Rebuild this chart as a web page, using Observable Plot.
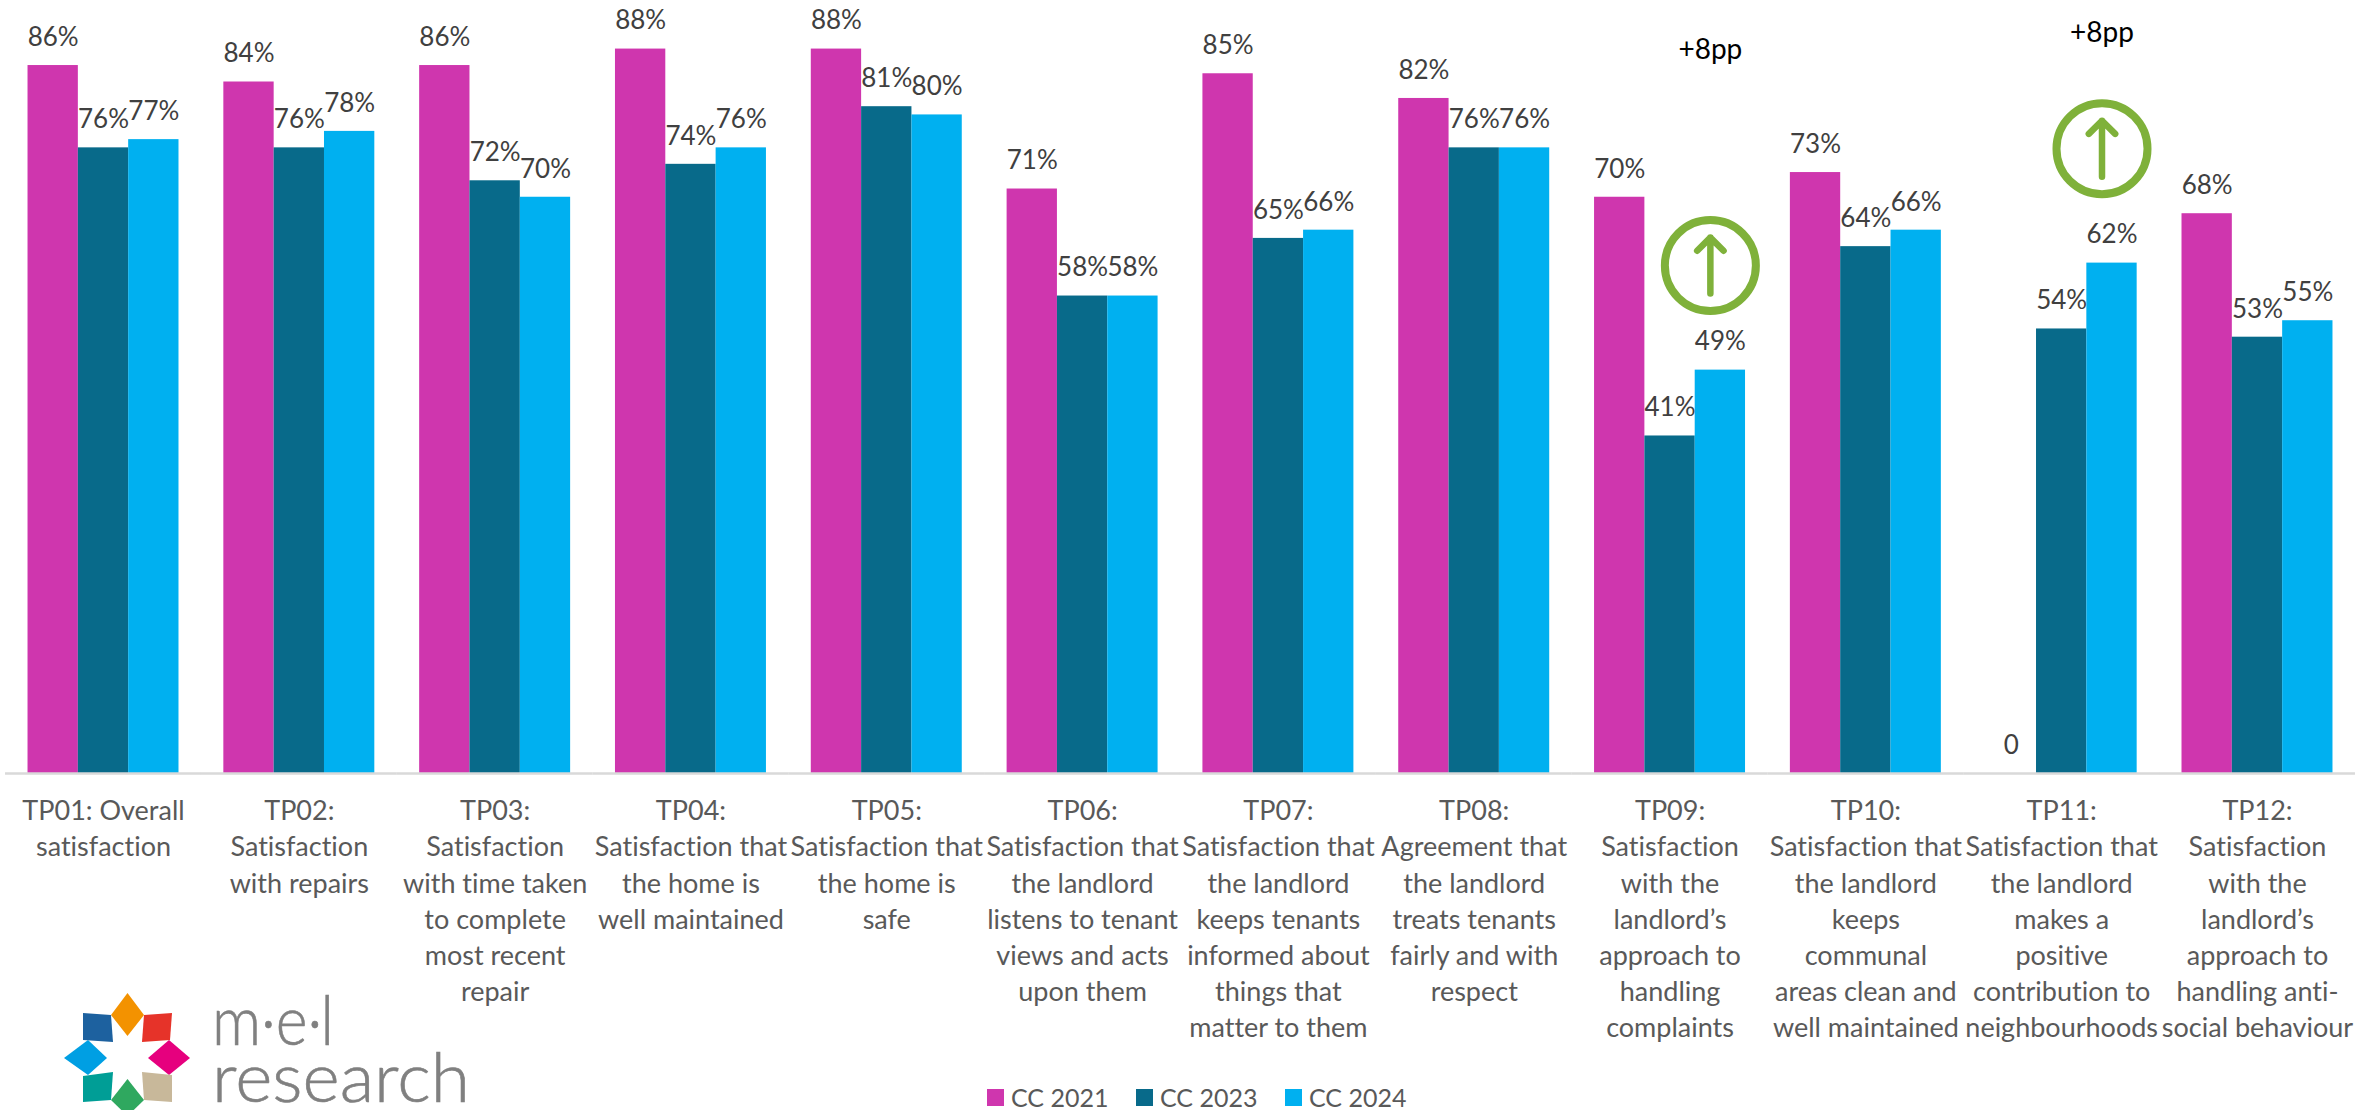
<!DOCTYPE html>
<html>
<head>
<meta charset="utf-8">
<script src="https://cdn.jsdelivr.net/npm/d3@7"></script>
<script src="https://cdn.jsdelivr.net/npm/@observablehq/plot@0.6"></script>
<style>
  html, body { margin: 0; padding: 0; background: #fff; overflow: hidden; }
  #stage { position: relative; width: 2380px; height: 1110px; font-family: Lato, sans-serif; font-variant-ligatures: none; }
  #chart text { font-variant-ligatures: none; }
  #legend { position: absolute; left: 987px; top: 1080px; height: 30px; color: #595959; font-size: 25px; line-height: 34px; }
  #legend span.item { position: absolute; top: 0; white-space: nowrap; }
  #legend i { position: absolute; top: 9px; width: 17px; height: 17px; }
  #logo { position: absolute; left: 0; top: 0; pointer-events: none; }
</style>
</head>
<body>
<div id="stage">
  <div id="chart"></div>
  <svg id="logo" width="2380" height="1110" viewBox="0 0 2380 1110">
    <polygon points="127.5,993 144,1015 127.5,1036 111,1015" fill="#f39200"/>
    <polygon points="83,1013 111,1015 113,1042 83,1040" fill="#1d619f"/>
    <polygon points="144,1015 172,1013 170,1040 142,1042" fill="#e63329"/>
    <polygon points="64,1058 88,1040 107,1058 88,1075" fill="#009fe3"/>
    <polygon points="190,1058 169,1040 148,1058 169,1075" fill="#e6007e"/>
    <polygon points="83,1076 113,1072 111,1100 83,1102" fill="#009e96"/>
    <polygon points="142,1072 172,1075 172,1102 144,1100" fill="#c8b89a"/>
    <polygon points="127.5,1079 144,1100 127.5,1116 111,1100" fill="#2fa85f"/>
    <text x="212" y="1045" font-family="Lato, sans-serif" font-weight="300" font-size="68" fill="#808080" stroke="#808080" stroke-width="0.6" textLength="122" lengthAdjust="spacingAndGlyphs">m·e·l</text>
    <text x="212" y="1102" font-family="Lato, sans-serif" font-weight="300" font-size="68" fill="#808080" stroke="#808080" stroke-width="0.6" textLength="258" lengthAdjust="spacingAndGlyphs">research</text>
  </svg>
  <div id="legend"></div>
</div>
<script>
// Tenant perception measures, one group of three bars per measure
const measures = [
  "TP01: Overall\nsatisfaction",
  "TP02:\nSatisfaction\nwith repairs",
  "TP03:\nSatisfaction\nwith time taken\nto complete\nmost recent\nrepair",
  "TP04:\nSatisfaction that\nthe home is\nwell maintained",
  "TP05:\nSatisfaction that\nthe home is\nsafe",
  "TP06:\nSatisfaction that\nthe landlord\nlistens to tenant\nviews and acts\nupon them",
  "TP07:\nSatisfaction that\nthe landlord\nkeeps tenants\ninformed about\nthings that\nmatter to them",
  "TP08:\nAgreement that\nthe landlord\ntreats tenants\nfairly and with\nrespect",
  "TP09:\nSatisfaction\nwith the\nlandlord’s\napproach to\nhandling\ncomplaints",
  "TP10:\nSatisfaction that\nthe landlord\nkeeps\ncommunal\nareas clean and\nwell maintained",
  "TP11:\nSatisfaction that\nthe landlord\nmakes a\npositive\ncontribution to\nneighbourhoods",
  "TP12:\nSatisfaction\nwith the\nlandlord’s\napproach to\nhandling anti-\nsocial behaviour"
];
const waves = ["CC 2021", "CC 2023", "CC 2024"];
const waveColors = ["#CF36AE", "#086A8A", "#00B0F0"];

const cc2021 = [86, 84, 86, 88, 88, 71, 85, 82, 70, 73, 0, 68];
const cc2023 = [76, 76, 72, 74, 81, 58, 65, 76, 41, 64, 54, 53];
const cc2024 = [77, 78, 70, 76, 80, 58, 66, 76, 49, 66, 62, 55];

// TP11 has no 2021 result, so its label reads a bare 0
const rows = measures.flatMap((measure, i) => [cc2021, cc2023, cc2024].map((series, j) => ({
  measure, wave: waves[j], value: series[i],
  label: series[i] === 0 ? "0" : series[i] + "%"
})));

// Year-on-year rises called out above their bars
const rises = [
  {measure: measures[8], wave: "CC 2024", circleAt: 61.7, tailAt: 58.3, tipAt: 65.1, textAt: 87.9, text: "+8pp"},
  {measure: measures[10], wave: "CC 2024", circleAt: 75.9, tailAt: 72.5, tipAt: 79.3, textAt: 90.0, text: "+8pp"}
];

const chart = Plot.plot({
  width: 2380,
  height: 1110,
  marginLeft: 5,
  marginRight: 25,
  marginTop: 0,
  marginBottom: 337,
  style: {fontFamily: "Lato, sans-serif", background: "transparent"},
  fx: {domain: measures, paddingInner: 0.229, paddingOuter: 0.115, round: false},
  x: {domain: waves, padding: 0, round: false},
  y: {domain: [0, 93.9]},
  color: {domain: waves, range: waveColors},
  marks: [
    Plot.axisFx({anchor: "bottom", tickSize: 0, tickPadding: 21, fontSize: 27, lineHeight: 1.34, lineAnchor: "top", color: "#595959", label: null}),
    Plot.axisX({ticks: [], label: null}),
    Plot.axisY({ticks: [], label: null}),
    Plot.barY(rows, {fx: "measure", x: "wave", y: "value", fill: "wave"}),
    // The baseline repeats in every facet and stretches across the gaps between groups
    Plot.ruleY([0], {stroke: "#D9D9D9", strokeWidth: 2.5, insetLeft: -22.5, insetRight: -22.5}),
    Plot.text(rows, {fx: "measure", x: "wave", y: "value", text: "label", dy: -28, fontSize: 26, fill: "#404040"}),
    Plot.dot(rises, {fx: "measure", x: "wave", y: "circleAt", r: 45.5, dx: -10, fill: "none", stroke: "#7FB13A", strokeWidth: 8}),
    Plot.arrow(rises, {fx: "measure", x: "wave", y1: "tailAt", y2: "tipAt", dx: -10, bend: 0, stroke: "#7FB13A", strokeWidth: 6.5, headLength: 32, headAngle: 90, strokeLinecap: "round"}),
    Plot.text(rises, {fx: "measure", x: "wave", y: "textAt", text: "text", dx: -10, fontSize: 28, fill: "#000"})
  ]
});
document.getElementById("chart").append(chart);

// Legend row under the chart
const legend = document.getElementById("legend");
const offsets = [0, 149, 298];
waves.forEach((wave, i) => {
  const item = document.createElement("span");
  item.className = "item";
  item.style.left = offsets[i] + "px";
  const swatch = document.createElement("i");
  swatch.style.background = waveColors[i];
  const name = document.createElement("span");
  name.textContent = wave;
  name.style.marginLeft = "24px";
  item.append(swatch, name);
  legend.append(item);
});
</script>
</body>
</html>
